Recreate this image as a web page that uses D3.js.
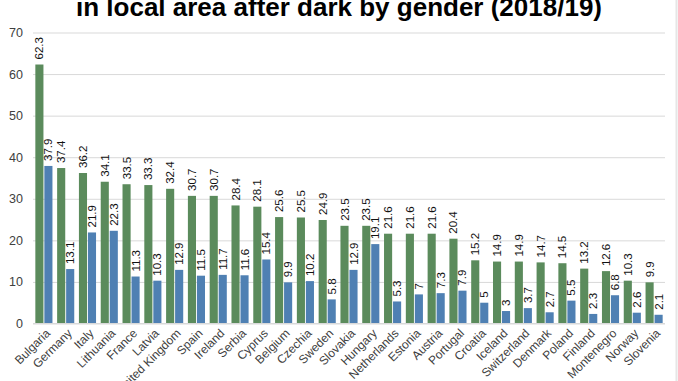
<!DOCTYPE html>
<html>
<head>
<meta charset="utf-8">
<script src="https://cdn.jsdelivr.net/npm/d3@7"></script>
<style>
  html, body { margin: 0; padding: 0; background: #fff; }
  svg { display: block; font-family: "Liberation Sans", Arial, sans-serif; }
</style>
</head>
<body>
<svg id="chart" width="678" height="381"></svg>
<script>
const countries = ["Bulgaria","Germany","Italy","Lithuania","France","Latvia","United Kingdom","Spain","Ireland","Serbia","Cyprus","Belgium","Czechia","Sweden","Slovakia","Hungary","Netherlands","Estonia","Austria","Portugal","Croatia","Iceland","Switzerland","Denmark","Poland","Finland","Montenegro","Norway","Slovenia"];
const women = [62.3,37.4,36.2,34.1,33.5,33.3,32.4,30.7,30.7,28.4,28.1,25.6,25.5,24.9,23.5,23.5,21.6,21.6,21.6,20.4,15.2,14.9,14.9,14.7,14.5,13.2,12.6,10.3,9.9];
const men = [37.9,13.1,21.9,22.3,11.3,10.3,12.9,11.5,11.7,11.6,15.4,9.9,10.2,5.8,12.9,19.1,5.3,7,7.3,7.9,5,3,3.7,2.7,5.5,2.3,6.8,2.6,2.1];
const yTicks = [0,10,20,30,40,50,60,70];
const seriesNames = ["Women","Men"];
const colors = ["#5b8b5c","#4f80b3"];
const title = "in local area after dark by gender (2018/19)";

const svg = d3.select("#chart");
const W = 678, H = 381;

const x = d3.scaleBand().domain(countries).range([33, 665]).paddingInner(0).paddingOuter(0);
const x1 = d3.scaleBand().domain(seriesNames).range([0, x.bandwidth()]).paddingOuter(0.26).paddingInner(0.1);
const y = d3.scaleLinear().domain([0, 70]).range([323.5, 32.5]);

// right border
svg.append("line").attr("x1", 676.5).attr("x2", 676.5).attr("y1", 0).attr("y2", H)
  .attr("stroke", "#e6e6e6").attr("stroke-width", 2);

// title (top is clipped by the frame, as in the source image)
svg.append("text").attr("x", 339).attr("y", 16).attr("text-anchor", "middle")
  .attr("font-size", 26).attr("font-weight", "bold").attr("fill", "#000").text(title);

// gridlines
const yAxis = d3.axisLeft(y).tickValues(yTicks).tickSize(-(665 - 33)).tickPadding(10);
const gy = svg.append("g").attr("transform", "translate(33,0)").call(yAxis);
gy.select(".domain").remove();
gy.selectAll(".tick line").attr("stroke", "#d9d9d9").attr("stroke-width", 1);
gy.selectAll(".tick text").attr("font-size", 12.5).attr("fill", "#404040")
  .attr("font-family", "Liberation Sans, Arial, sans-serif");

const data = countries.map((c, i) => ({c, vals: [women[i], men[i]]}));

const groups = svg.append("g").selectAll("g").data(data).join("g")
  .attr("transform", d => `translate(${x(d.c)},0)`);

groups.selectAll("rect").data(d => d.vals.map((v, j) => ({v, s: seriesNames[j], j})))
  .join("rect")
  .attr("x", d => x1(d.s))
  .attr("width", x1.bandwidth())
  .attr("y", d => y(d.v))
  .attr("height", d => y(0) - y(d.v))
  .attr("fill", d => colors[d.j]);

groups.selectAll("text.val").data(d => d.vals.map((v, j) => ({v, s: seriesNames[j], j})))
  .join("text").attr("class", "val")
  .attr("transform", d => `translate(${x1(d.s) + x1.bandwidth() / 2},${y(d.v) - 5}) rotate(-90)`)
  .attr("dy", "0.35em")
  .attr("font-size", 11.5).attr("fill", "#111")
  .text(d => d.v);

// x axis baseline
svg.append("line").attr("x1", 33).attr("x2", 665).attr("y1", y(0)).attr("y2", y(0))
  .attr("stroke", "#d9d9d9");

// x labels
svg.append("g").selectAll("text").data(countries).join("text")
  .attr("transform", d => `translate(${x(d) + x.bandwidth() / 2 + 4},${331}) rotate(-45)`)
  .attr("text-anchor", "end").attr("dy", "0.35em")
  .attr("font-size", 12).attr("fill", "#404040")
  .text(d => d);
</script>
</body>
</html>
